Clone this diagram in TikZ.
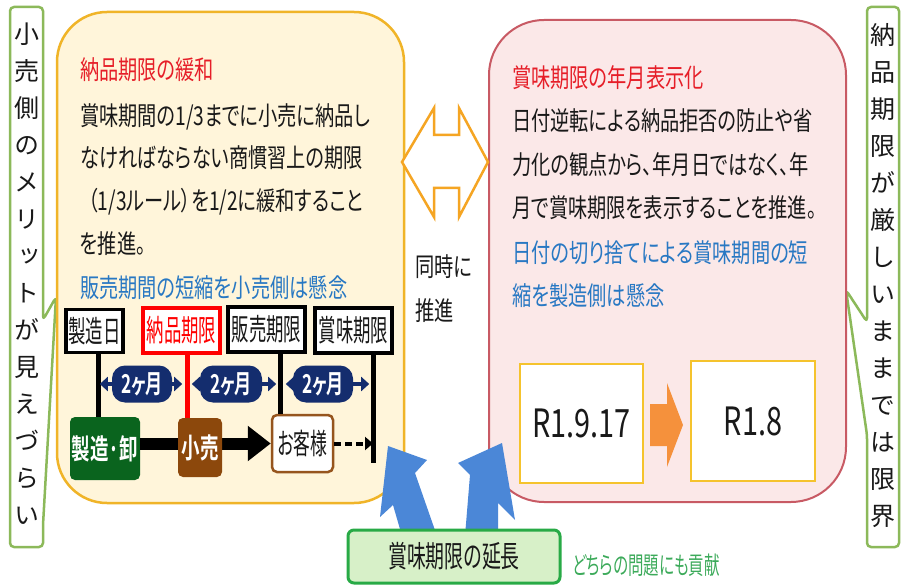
\documentclass[tikz,border=0pt]{standalone}
\usepackage{fontspec}
\newfontfamily\jpA[FakeStretch=0.74,RawFeature=+palt]{Noto Sans CJK JP}
\newfontfamily\jpC[FakeStretch=0.63,RawFeature=+palt]{Noto Sans CJK JP}
\newfontfamily\jpD[FakeStretch=0.58,RawFeature=+palt]{Noto Sans CJK JP}
\newfontfamily\jpBb[FakeStretch=0.66,RawFeature=+palt]{Noto Sans CJK JP Bold}
\newfontfamily\jpV[RawFeature=+vert]{Noto Sans CJK JP}
\usetikzlibrary{arrows.meta}
\definecolor{yfill}{RGB}{255,245,218}
\definecolor{yline}{RGB}{240,180,40}
\definecolor{pfill}{RGB}{251,232,232}
\definecolor{pline}{RGB}{200,90,100}
\definecolor{tred}{RGB}{230,30,40}
\definecolor{tblue}{RGB}{40,120,195}
\definecolor{navy}{RGB}{20,45,110}
\definecolor{mgreen}{RGB}{10,100,30}
\definecolor{rbrown}{RGB}{140,72,12}
\definecolor{cbrown}{RGB}{150,85,30}
\definecolor{cgreen}{RGB}{140,185,90}
\definecolor{egfill}{RGB}{215,240,200}
\definecolor{egline}{RGB}{40,170,70}
\definecolor{contrib}{RGB}{60,170,90}
\definecolor{orng}{RGB}{245,165,35}
\definecolor{orblock}{RGB}{245,145,60}
\definecolor{rline}{RGB}{245,195,45}
\definecolor{ablue}{RGB}{75,135,215}
\definecolor{ink}{RGB}{25,25,25}
\tikzset{
  callout/.style={draw=cgreen, line width=2.5pt, fill=white, rounded corners=4pt, line join=round},
  vtext/.style={font=\jpV\fontsize{25}{37}\selectfont, align=center, inner sep=0pt, text=ink},
  bodytxt/.style={font=\jpA\fontsize{26}{30}\selectfont, anchor=base west, inner sep=0pt, text=ink},
  lab/.style={draw=black, line width=3.5pt, fill=white, inner sep=0pt, font=\jpD\fontsize{30}{32}\selectfont, text=ink},
  lowbox/.style={rounded corners=5pt, inner sep=0pt, font=\jpBb\fontsize{28}{30}\selectfont, text=white},
  vline/.style={line width=5pt, black},
  pill/.style={fill=navy, rounded corners=13pt, minimum height=37pt, inner sep=0pt, font=\jpBb\fontsize{26}{28}\selectfont, text=white},
  pillarr/.style={navy, line width=4pt, -{Triangle[length=8pt,width=14pt]}},
  rbox/.style={draw=rline, line width=2.5pt, fill=white, inner sep=0pt, font=\jpA\fontsize{39}{40}\selectfont, text=ink},
}
\begin{document}
\begin{tikzpicture}[x=1pt,y=-1pt]
\useasboundingbox (0,0) rectangle (902,588);
\fill[white] (0,0) rectangle (902,588);

% callouts
\draw[callout] (43,320) -- (56,297) -- (43,525) -- (43,547) -- (10,547) -- (10,7) -- (43,7) -- cycle;
\node[vtext, anchor=north] (lefttext) at (26.5,23) {小\\売\\側\\の\\メ\\リ\\ッ\\ト\\が\\見\\え\\づ\\ら\\い};
\draw[callout] (867,322) -- (846,290) -- (867,435) -- (867,547) -- (899,547) -- (899,7) -- (867,7) -- cycle;
\node[vtext, anchor=north] (righttext) at (883,23) {納\\品\\期\\限\\が\\厳\\し\\い\\ま\\ま\\で\\は\\限\\界};

% main boxes
\draw[draw=yline, fill=yfill, line width=2.5pt, rounded corners=50pt] (57,12) rectangle (404,503);
\draw[draw=pline, fill=pfill, line width=2pt, rounded corners=55pt] (489,20) rectangle (846,502);

% left box text
\node[bodytxt, text=tred] (lt) at (80,80) {納品期限の緩和};
\node[bodytxt] (l1t) at (80,126) {賞味期間の1/3までに小売に納品し};
\node[bodytxt] (l2t) at (80,168) {なければならない商慣習上の期限};
\node[bodytxt] (l3t) at (80,211) {\hspace{8pt}（1/3ルール）を1/2に緩和すること};
\node[bodytxt] (l4t) at (80,254) {を推進。};
\node[bodytxt, text=tblue] (l5t) at (80,297) {販売期間の短縮を小売側は懸念};

% timeline labels
\node[lab, minimum width=57pt, minimum height=43pt] (lab1) at (94.5,331) {製造日};
\node[lab, draw=red, text=red, minimum width=77pt, minimum height=45pt] (lab2) at (181.5,330.5) {納品期限};
\node[lab, minimum width=77pt, minimum height=45pt] (lab3) at (266.5,329.5) {販売期限};
\node[lab, minimum width=77pt, minimum height=45pt] (lab4) at (353.5,330.5) {賞味期限};

% lower boxes
\node[lowbox, fill=mgreen, minimum width=70pt, minimum height=63pt] (b1) at (105,448.5) {製造·卸};
\node[lowbox, draw=cbrown, line width=2.5pt, fill=white, text=ink, font=\jpD\fontsize{29}{30}\selectfont, minimum width=61pt, minimum height=57pt] (b3) at (302.5,443.5) {お客様};
\coordinate (l4end) at (373,463);

% vertical lines
\draw[vline] ([xshift=3.5pt]lab1.south) -- ([xshift=3.5pt]lab1.south |- b1.north);
\draw[vline] ([xshift=13.5pt]lab3.south) -- ([xshift=13.5pt]lab3.south |- b3.north);
\draw[vline] ([xshift=19.5pt]lab4.south) -- (l4end);

% flow arrows
\draw[line width=12pt, -{Triangle[length=23pt,width=34pt]}] (b1.east |- b3.west) -- (b3.west);
\draw[line width=4pt, dash pattern=on 7pt off 4pt, -{Triangle[length=8pt,width=13pt]}] (b3.east) -- (b3.east -| l4end);

\node[lowbox, fill=rbrown, minimum width=44pt, minimum height=59pt] (b2) at (200,447.5) {小売};
\draw[vline, red] ([xshift=5.5pt]lab2.south) -- ([xshift=5.5pt]lab2.south |- b2.north);

% period pills
\node[pill, minimum width=60pt] (p1) at (142,384) {2ヶ月};
\node[pill, minimum width=62pt] (p2) at (231,384) {2ヶ月};
\node[pill, minimum width=60pt] (p3) at (323,384) {2ヶ月};
\draw[pillarr] (p1.west) -- ++(-12,0);
\draw[pillarr] (p1.east) -- ++(10,0);
\draw[pillarr] (p2.west) -- ++(-8,0);
\draw[pillarr] (p2.east) -- ++(14,0);
\draw[pillarr] (p3.west) -- ++(-7,0);
\draw[pillarr] (p3.east) -- ++(16,0);

% orange double arrow
\draw[draw=orng, fill=white, line width=2.5pt, line join=miter]
  (402,162) -- (434,108) -- (434,135) -- (459,135) -- (459,108) -- (488,162)
  -- (459,217) -- (459,188) -- (434,188) -- (434,217) -- cycle;
\node[bodytxt] (sim1) at (415,276) {同時に};
\node[bodytxt] (sim2) at (415,320) {推進};

% right box text
\node[bodytxt, text=tred] (rt) at (512,88) {賞味期限の年月表示化};
\node[bodytxt] (r1t) at (512,131) {日付逆転による納品拒否の防止や省};
\node[bodytxt] (r2t) at (512,175) {力化の観点から、年月日ではなく、年};
\node[bodytxt] (r3t) at (512,218) {月で賞味期限を表示することを推進。};
\node[bodytxt, text=tblue] (r4t) at (512,262) {日付の切り捨てによる賞味期間の短};
\node[bodytxt, text=tblue] (r5t) at (512,305) {縮を製造側は懸念};

\node[rbox, minimum width=123pt, minimum height=119pt] (rb1) at (581.5,423.5) {R1.9.17};
\node[rbox, minimum width=124pt, minimum height=120pt] (rb2) at (753,421) {R1.8};
\fill[orblock] (650,404) -- (667,404) -- (667,383) -- (683,425) -- (667,467) -- (667,446) -- (650,446) -- cycle;

% blue arrows
\fill[ablue] (388,446) -- (427,460) -- (415,473) -- (437,536) -- (402,536) -- (393,505) -- (380,517) -- cycle;
\fill[ablue] (502,443) -- (515,520) -- (498,503) -- (498,536) -- (465,536) -- (470,475) -- (458,463) -- cycle;

% extension box
\node[draw=egline, fill=egfill, line width=3pt, rounded corners=6pt, minimum width=212pt, minimum height=53pt, inner sep=0pt, font=\jpC\fontsize{30}{32}\selectfont, text=ink] (ext) at (454,556.5) {賞味期限の延長};
\node[font=\jpC\fontsize{24.5}{26}\selectfont, text=contrib, anchor=base west, inner sep=0pt] (contribtxt) at (572,574) {どちらの問題にも貢献};
\end{tikzpicture}
\end{document}
